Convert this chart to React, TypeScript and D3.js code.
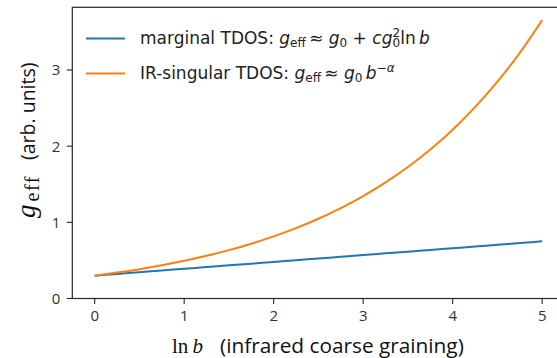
import React from "react";
import * as d3 from "d3";

const lnB = [0, 0.25, 0.5, 0.75, 1, 1.25, 1.5, 1.75, 2, 2.25, 2.5, 2.75, 3, 3.25, 3.5, 3.75, 4, 4.25, 4.5, 4.75, 5];
const marginal = [0.3, 0.3225, 0.345, 0.3675, 0.39, 0.4125, 0.435, 0.4575, 0.48, 0.5025, 0.525, 0.5475, 0.57, 0.5925, 0.615, 0.6375, 0.66, 0.6825, 0.705, 0.7275, 0.75];
const irSingular = [0.3, 0.34, 0.385, 0.4365, 0.4946, 0.5605, 0.6351, 0.7197, 0.8155, 0.9241, 1.0471, 1.1865, 1.3445, 1.5235, 1.7264, 1.9562, 2.2167, 2.5119, 2.8463, 3.2253, 3.6548];
const xTicks = [0, 1, 2, 3, 4, 5];
const yTicks = [0, 1, 2, 3];

const W = 557;
const H = 358;
const left = 72.3;
const top = 7.3;
const bottom = 298.5;

export default function App() {
  const x = d3.scaleLinear().domain([-0.25, 5.25]).range([left, left + 5.5 * 89.5]);
  const y = d3.scaleLinear().domain([0, 3.823]).range([bottom, top]);
  const line = (vals: number[]) =>
    d3.line<number>().x((_, i) => x(lnB[i])).y((v) => y(v)).curve(d3.curveMonotoneX)(vals) || "";
  const axisColor = "#262626";
  const tickFont = "'Open Sans', sans-serif";
  const legFont = "'DejaVu Sans', sans-serif";
  const fs = 17;
  const sub = 12;
  return (
    <svg width={W} height={H} style={{ position: "absolute", left: 0, top: 0, background: "#fff" }}>
      <rect x={0} y={0} width={W} height={H} fill="#fff" />
      <path d={line(marginal)} fill="none" stroke="#1f77b4" strokeWidth={2} />
      <path d={line(irSingular)} fill="none" stroke="#ff7f0e" strokeWidth={2} />
      {/* frame */}
      <rect x={left} y={top} width={x(5.25) - left} height={bottom - top} fill="none" stroke={axisColor} strokeWidth={1.2} />
      {xTicks.map((t) => (
        <g key={"x" + t}>
          <line x1={x(t)} x2={x(t)} y1={bottom} y2={bottom + 5.5} stroke={axisColor} strokeWidth={1.1} />
          <text x={x(t)} y={bottom + 22} textAnchor="middle" fontFamily={tickFont} fontSize={15} fill="#333">{t}</text>
        </g>
      ))}
      {yTicks.map((t) => (
        <g key={"y" + t}>
          <line x1={left} x2={left - 5.5} y1={y(t)} y2={y(t)} stroke={axisColor} strokeWidth={1.1} />
          <text x={left - 12} y={y(t) + 5.5} textAnchor="end" fontFamily={tickFont} fontSize={15} fill="#333">{t}</text>
        </g>
      ))}
      {/* legend */}
      <line x1={86} x2={125} y1={38.5} y2={38.5} stroke="#1f77b4" strokeWidth={2} />
      <line x1={86} x2={125} y1={73.5} y2={73.5} stroke="#ff7f0e" strokeWidth={2} />
      <text x={140} y={44} fontFamily={legFont} fontSize={fs} fill="#222">
        marginal TDOS: <tspan fontStyle="italic">g</tspan><tspan fontSize={sub} dy={3}>eff</tspan>
        <tspan dy={-3}>{"\u2009≈ "}</tspan><tspan fontStyle="italic">g</tspan><tspan fontSize={sub} dy={3}>0</tspan>
        <tspan dy={-3}>{" + "}</tspan><tspan fontStyle="italic">cg</tspan><tspan fontSize={sub} dy={-7}>2</tspan>
        <tspan fontSize={sub} dx={-7.5} dy={10}>0</tspan><tspan dy={-3}>ln</tspan><tspan fontStyle="italic">{"\u2009b"}</tspan>
      </text>
      <text x={140} y={79} fontFamily={legFont} fontSize={fs} fill="#222">
        IR-singular TDOS: <tspan fontStyle="italic">g</tspan><tspan fontSize={sub} dy={3}>eff</tspan>
        <tspan dy={-3}>{"\u2009≈ "}</tspan><tspan fontStyle="italic">g</tspan><tspan fontSize={sub} dy={3}>0</tspan>
        <tspan dy={-3} fontStyle="italic">{"\u2009b"}</tspan><tspan fontSize={sub} dy={-7}>−</tspan><tspan fontSize={sub} fontStyle="italic">α</tspan>
      </text>
      {/* x label */}
      <text x={172} y={353} fontSize={21} fill="#111">
        <tspan fontFamily="'Liberation Serif', serif">ln</tspan>
        <tspan fontFamily="'Liberation Serif', serif" fontStyle="italic">{"\u2009b"}</tspan>
        <tspan fontFamily="'Open Sans', sans-serif" fontSize={20.8} x={220}>(infrared coarse graining)</tspan>
      </text>
      {/* y label */}
      <text transform="translate(35,218) rotate(-90)" fontSize={19} fill="#111">
        <tspan fontFamily="'Liberation Serif', serif" fontStyle="italic" fontSize={27} letterSpacing={1}>g</tspan>
        <tspan fontFamily="'Liberation Serif', serif" fontSize={20} dx={2} dy={4} letterSpacing={1.5}>eff</tspan>
        <tspan fontFamily="'Open Sans', sans-serif" fontSize={19.5} dy={-4} x={58}>(arb. units)</tspan>
      </text>
    </svg>
  );
}
